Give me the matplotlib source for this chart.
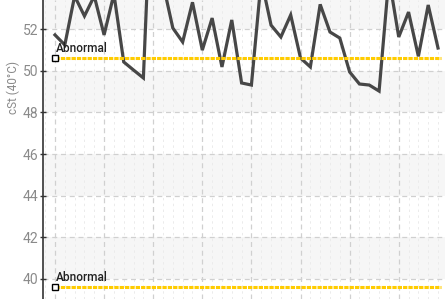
import matplotlib
matplotlib.use('Agg')
import matplotlib.pyplot as plt
from matplotlib.ticker import MultipleLocator

# viscosity readings, one per sample (peaks above 53.4 are clipped in the view)
viscosity = [51.73, 51.25, 53.6, 52.64, 53.6, 51.73, 53.7, 50.43, 50.04, 49.66,
             61.0, 54.2, 52.06, 51.39, 53.3, 51.0, 52.54, 50.19, 52.45, 49.42,
             49.32, 54.4, 52.2, 51.63, 52.69, 50.62, 50.19, 53.2, 51.87, 51.58,
             49.95, 49.37, 49.32, 49.03, 54.5, 51.63, 52.83, 50.7, 53.17, 51.1]
samples = list(range(len(viscosity)))

limit_values = [50.6, 39.6]
limit_labels = ['Abnormal', 'Abnormal']

y_ticks = [40, 42, 44, 46, 48, 50, 52]
bands = [(40, 42), (44, 46), (48, 50), (52, 54)]

plt.rcParams['font.family'] = ['Roboto', 'DejaVu Sans']

fig = plt.figure(figsize=(4.45, 2.99), dpi=100)
ax = fig.add_axes([43 / 445, 0, 1 - 43 / 445, 1])

# 1. background bands and grid
for lo, hi in bands:
    ax.axhspan(lo, hi, color='#f6f6f6', lw=0, zorder=0)

ax.set_xlim(-1.22, 39.71)
ax.set_ylim(39.03, 53.41)
ax.xaxis.set_major_locator(MultipleLocator(5))
ax.xaxis.set_minor_locator(MultipleLocator(1))
ax.set_yticks(y_ticks)
ax.grid(True, which='major', axis='both', color='#d0d0d0', ls=(0, (4, 3)), lw=0.9, zorder=1)
ax.grid(True, which='minor', axis='x', color='#ebebeb', ls=(0, (2.5, 3.5)), lw=0.7, zorder=1)

# 2. data line
ax.plot(samples, viscosity, color='#474747', lw=2.3, zorder=3, solid_joinstyle='miter')

# 3. abnormal limits
for value, label in zip(limit_values, limit_labels):
    ax.plot([0, 39.3], [value, value], color='#ffcc00', lw=2.2,
            ls=(0, (1.4, 0.35)), zorder=4)
    ax.plot(0, value, marker='s', ms=4, mfc='white', mec='black', mew=1, zorder=5)
    ax.text(0.05, value + 0.15, label, fontsize=8.5, color='#222222',
            fontweight='medium', ha='left', va='bottom', zorder=6)

# 4. axes styling
for side in ['top', 'right', 'bottom']:
    ax.spines[side].set_visible(False)
ax.spines['left'].set_color('#333333')
ax.spines['left'].set_linewidth(1.2)
ax.tick_params(axis='y', which='major', direction='inout', length=5, width=1,
               color='#333333', labelcolor='#8a8a8a', labelsize=10, pad=1)
ax.tick_params(axis='x', which='both', length=0, labelbottom=False)

fig.text(13 / 445, 1 - 88 / 299, 'cSt (40°C)', rotation=90, fontsize=8.5,
         color='#8a8a8a', ha='center', va='center')

fig.savefig('out.png', dpi=100)
